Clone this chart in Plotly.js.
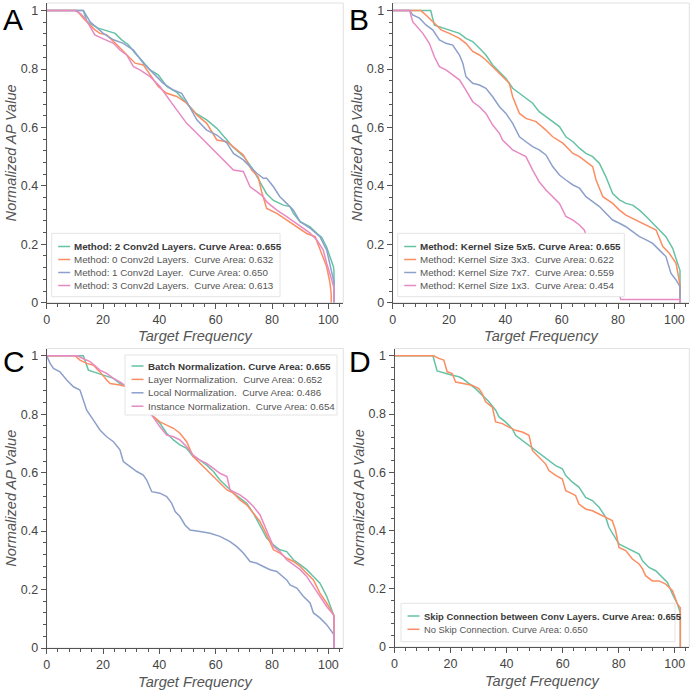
<!DOCTYPE html>
<html><head><meta charset="utf-8">
<script src="https://cdn.plot.ly/plotly-3.0.1.min.js"></script>
<style>html,body{margin:0;padding:0;background:#fff;}#chart{width:692px;height:694px;}</style>
</head><body><div id="chart"></div>
<script>
// ---------- colours ----------
const seriesColors = ['#66c2a5', '#fc8d62', '#8da0cb', '#e78ac3'];

// ---------- Panel A : number of Conv2d layers ----------
const namesA = ['Method: 2 Conv2d Layers. Curve Area: 0.655',
  'Method: 0 Conv2d Layers.\u00a0 Curve Area: 0.632',
  'Method: 1 Conv2d Layer.\u00a0 Curve Area: 0.650',
  'Method: 3 Conv2d Layers.\u00a0 Curve Area: 0.613'];
const A_green_x = [0,13,14.2,15.4,18.3,21.9,24.3,26.6,29,31.4,33.1,36.7,39.6,42.6,46.2,49.7,53,56.8,60.4,64,66,70,73,75.7,78,80.5,84,86.4,87.6,90,93.5,96,97.6,99.4,101.8,102,102];
const A_green_y = [1,1,.965,.955,.94,.928,.922,.9,.883,.854,.837,.797,.78,.74,.72,.683,.648,.626,.597,.557,.534,.5,.46,.414,.374,.35,.334,.329,.306,.277,.26,.237,.224,.19,.123,.106,0];
const A_orange_x = [0,10.7,13,15.4,17,18.9,21.3,24.9,28.4,31.4,34.3,36.7,39.6,42.6,46.2,49.7,53.3,56.8,60.4,64,66.3,69.8,72.8,75.1,76.3,78.1,81.7,85.2,88.8,92.3,95.3,97.6,99.4,100.6,101,101];
const A_orange_y = [1,1,.974,.951,.935,.922,.917,.883,.848,.82,.814,.78,.74,.717,.706,.683,.643,.614,.557,.551,.534,.506,.454,.43,.38,.323,.306,.283,.26,.237,.226,.169,.123,.066,.03,0];
const A_blue_x = [0,13,15.4,17.8,20.1,23.7,27.2,30.8,34.3,37.9,41.4,45,47.9,49.7,53.3,56.8,60.4,64,66.3,69.8,72.2,74.6,76.9,78.1,80.5,82.8,85.2,87.6,90,93.5,97,99.4,101.8,102,102];
const A_blue_y = [1,1,.962,.94,.922,.9,.888,.865,.82,.785,.751,.728,.717,.688,.626,.591,.574,.546,.511,.489,.466,.443,.426,.426,.397,.363,.34,.317,.277,.255,.226,.18,.078,.07,0];
const A_pink_x = [0,10,12,13.5,15.4,17.1,20.1,23.7,26,28.4,30.8,33.1,36.7,40.2,44.4,46.2,49.7,53.3,56.8,60.4,64,66.3,69.8,72.2,74.6,76.9,78.1,81.7,85.2,87.6,90,93.5,95.9,98.2,99.4,101.2,102,102];
const A_pink_y = [1,1,.99,.975,.945,.917,.903,.888,.865,.848,.808,.797,.774,.74,.683,.66,.614,.58,.546,.511,.477,.454,.449,.397,.38,.363,.345,.317,.295,.28,.262,.238,.215,.18,.135,.078,.05,0];

// ---------- Panel B : kernel size ----------
const namesB = ['Method: Kernel Size 5x5. Curve Area: 0.655',
  'Method: Kernel Size 3x3.\u00a0 Curve Area: 0.622',
  'Method: Kernel Size 7x7.\u00a0 Curve Area: 0.559',
  'Method: Kernel Size 1x3.\u00a0 Curve Area: 0.454'];
const B_green_x = [0,13.5,14.8,17.8,20.1,23.7,26,28.4,30.8,33.1,35.5,37.9,40.2,42.6,45,47.3,49.7,52,54.4,56.8,59.2,61.5,64,66.3,68.6,71,73.4,75.7,78.1,80.5,82.8,85.2,87.6,90,92.3,94.7,97,99.4,101.2,102,102];
const B_green_y = [1,1,.95,.94,.934,.922,.905,.894,.871,.848,.814,.791,.768,.734,.717,.7,.683,.654,.637,.62,.603,.568,.551,.529,.511,.5,.477,.431,.374,.352,.34,.334,.317,.295,.272,.249,.226,.186,.135,.11,0];
const B_orange_x = [0,10,11.8,14.2,17.2,20.1,23.7,26,28.4,30.8,33.1,35.5,37.9,40.2,41.4,42.6,45,47.3,50.9,54.4,56.8,60.4,64,66.3,68.6,71,72.2,74.6,78.1,80.5,82.8,86.4,90,93.5,95.9,98.2,100.6,101.8,102,102];
const B_orange_y = [1,1,.985,.962,.934,.922,.905,.888,.86,.848,.831,.808,.785,.763,.751,.705,.648,.631,.62,.591,.568,.546,.511,.5,.483,.466,.42,.363,.34,.317,.3,.283,.266,.249,.192,.169,.135,.078,.06,0];
const B_blue_x = [0,6,7.1,9.5,11.8,14.2,16.6,18.9,21.3,23.7,24.9,26,28.4,30.8,33.1,35.5,37.9,40.2,42.6,45,47.3,49.7,52,54.4,56.8,59.2,61.5,64,66.3,68.6,71,73.4,75.7,78.1,80.5,82.8,85.2,87.6,90,92.3,94.7,97,98.8,100.6,102,102];
const B_blue_y = [1,1,.985,.974,.951,.934,.9,.888,.882,.848,.82,.774,.751,.745,.734,.705,.671,.648,.614,.568,.551,.534,.523,.506,.466,.437,.42,.403,.392,.363,.346,.329,.306,.283,.272,.26,.243,.226,.215,.203,.18,.158,.1,.078,.055,0];
const B_pink_x = [0,6,7.1,8.9,10.7,13,14.8,16.6,18.9,21.3,23.7,26,28.4,30.8,33.1,35.5,37.9,39,40.2,42.6,45,47.3,49.7,52,54.4,56.8,59.2,61.5,64,66.3,68,68.9,80.5,81,102,102];
const B_pink_y = [1,1,.962,.94,.922,.888,.842,.808,.797,.78,.763,.728,.688,.671,.648,.608,.58,.557,.546,.523,.511,.5,.454,.414,.386,.363,.34,.295,.283,.266,.249,.226,.026,.011,.011,0];

// ---------- Panel C : normalization ----------
const namesC = ['Batch Normalization. Curve Area: 0.655',
  'Layer Normalization.\u00a0 Curve Area: 0.652',
  'Local Normalization.\u00a0 Curve Area: 0.486',
  'Instance Normalization.\u00a0 Curve Area: 0.654'];
const C_green_x = [0,13,14.8,17.8,20.1,23.7,26,28.4,37.3,40.2,42.6,45,47.3,49.7,52,54.4,56.8,59.2,61.5,64,66.3,68.6,71,73.4,75.7,78.1,80.5,82.8,85.2,87.6,90,92.3,94.7,97,99.4,101.8,102,102];
const C_green_y = [1,1,.951,.94,.934,.923,.905,.895,.797,.769,.735,.712,.695,.683,.655,.643,.626,.604,.575,.552,.53,.513,.495,.461,.421,.376,.353,.336,.33,.302,.285,.268,.245,.222,.177,.12,.11,0];
const C_orange_x = [0,10,11.8,14.2,16.6,18.9,21.3,22.5,26,28.4,37.3,40.2,42.6,45,47.3,49.7,52,54.4,56.8,59.2,61.5,64,66.3,68.6,71,73.4,75.7,78.1,80.5,82.8,85.2,87.6,90,92.3,94.7,97,99.4,101.8,102,102];
const C_orange_y = [1,1,.985,.974,.968,.945,.917,.905,.9,.894,.797,.774,.763,.752,.735,.706,.655,.632,.609,.587,.564,.541,.53,.507,.49,.461,.433,.387,.336,.325,.307,.296,.279,.256,.233,.188,.154,.114,.11,0];
const C_blue_x = [0,1.2,2.4,4.7,7.1,9.5,11.8,13,14.2,16.6,18.9,21.3,23.7,26,27.2,29.6,32,34.3,35.5,37.3,40.2,42.6,44.4,45.6,47.3,49.1,50.9,54.4,58,61.5,65.1,67.5,69.8,72.2,74.6,76.9,79.3,81.7,84,85.2,86.4,88.8,91.1,93.5,94.7,97,99.4,101.8,102,102];
const C_blue_y = [1,.974,.957,.945,.917,.894,.883,.849,.814,.78,.746,.723,.706,.678,.638,.621,.604,.592,.575,.535,.53,.518,.495,.467,.45,.421,.404,.399,.393,.382,.364,.347,.325,.296,.29,.279,.268,.262,.245,.233,.216,.205,.177,.154,.12,.103,.08,.051,.045,0];
const C_pink_x = [0,11,13,15.4,18.9,21.3,23.7,26,28.4,37.3,40.2,42.6,45,47.3,49.7,52,54.4,56.8,59.2,61.5,64,65.1,66.3,68.6,71,73.4,75.7,78.1,80.5,82.8,85.2,87.6,90,92.3,94.7,97,99.4,101.8,102,102];
const C_pink_y = [1,1,.99,.98,.951,.94,.923,.911,.895,.797,.757,.729,.723,.712,.689,.66,.643,.632,.615,.598,.587,.541,.535,.524,.507,.484,.456,.404,.347,.33,.302,.285,.268,.245,.211,.177,.142,.114,.105,0];

// ---------- Panel D : skip connection ----------
const namesD = ['Skip Connection between Conv Layers. Curve Area: 0.655',
  'No Skip Connection. Curve Area: 0.650'];
const D_green_x = [0,13.7,15.2,18.2,20.6,23,24.2,26.5,28.9,31.3,33.7,36.1,37.3,39.6,42,43.2,45.6,48,50.4,52.7,55.1,57.5,59.9,61.1,63.5,65.8,68.2,70.6,73,74.2,75.4,76.5,78.9,80.1,82.5,84.9,87.3,88.5,90.8,93.2,95.6,97.4,99.2,101,102,102];
const D_green_y = [1,1,.948,.939,.933,.928,.922,.905,.887,.865,.842,.813,.79,.773,.75,.727,.71,.692,.675,.658,.641,.623,.612,.589,.566,.549,.514,.503,.48,.463,.445,.411,.371,.354,.342,.331,.319,.296,.273,.262,.239,.222,.181,.147,.118,0];
const D_orange_x = [0,14,15.8,17.6,18.8,20.6,21.8,24.2,27.7,30.1,31.3,32.5,34.9,36.1,38.5,40.8,43.2,45.6,48,49.2,51.5,53.9,55.1,57.5,59.9,61.1,63.5,64.6,65.8,68.2,70.6,73,75.4,77.7,78.9,80.1,82.5,84.9,87.3,88.5,89.6,92,94.4,96.8,99.2,101,102,102];
const D_orange_y = [1,1,.991,.985,.945,.939,.91,.905,.899,.887,.87,.842,.824,.773,.767,.755,.744,.738,.727,.675,.652,.629,.606,.589,.577,.537,.526,.52,.491,.474,.468,.457,.445,.434,.4,.342,.331,.302,.285,.268,.245,.227,.227,.216,.193,.147,.135,0];

// ---------- axis text ----------
const xTitle = 'Target Frequency';
const yTitle = 'Normalized AP Value';
const panelLetters = ['A', 'B', 'C', 'D'];

// ---------- layout geometry (pixels) ----------
const W = 692, H = 694;
const px = v => v / W, py = v => 1 - v / H;
const panels = [
  {letter: panelLetters[0], ax: '', names: namesA, series: [[A_green_x, A_green_y], [A_orange_x, A_orange_y], [A_blue_x, A_blue_y], [A_pink_x, A_pink_y]],
   xdom: [46.7, 343.3], xmax: 105.3, ydom: [3, 302.7], ymax: 1.026, lab: [1, 1],
   leg: {l: 51.7, t: 233.3, r: 280, b: 296.7, y0: 246.5, dy: 13, fs: 9.8}},
  {letter: panelLetters[1], ax: '2', names: namesB, series: [[B_green_x, B_green_y], [B_orange_x, B_orange_y], [B_blue_x, B_blue_y], [B_pink_x, B_pink_y]],
   xdom: [392.7, 689.3], xmax: 105.3, ydom: [3, 302.7], ymax: 1.026, lab: [346.5, 1],
   leg: {l: 397.7, t: 233.3, r: 624.3, b: 296.7, y0: 246.5, dy: 13, fs: 9.8}},
  {letter: panelLetters[2], ax: '3', names: namesC, series: [[C_green_x, C_green_y], [C_orange_x, C_orange_y], [C_blue_x, C_blue_y], [C_pink_x, C_pink_y]],
   xdom: [46.7, 343.3], xmax: 105.3, ydom: [348.5, 648], ymax: 1.025, lab: [1, 343],
   leg: {l: 125, t: 355, r: 337, b: 415, y0: 366, dy: 13.4, fs: 9.8}},
  {letter: panelLetters[3], ax: '4', names: namesD, series: [[D_green_x, D_green_y], [D_orange_x, D_orange_y]],
   xdom: [394.5, 689.3], xmax: 105.2, ydom: [348.5, 647], ymax: 1.025, lab: [346.5, 343],
   leg: {l: 401, t: 603.3, r: 675, b: 641.7, y0: 616, dy: 13.3, fs: 9.4}}
];

const FONT = 'Liberation Sans, Arial, sans-serif';
const traces = [];
const layout = {
  width: W, height: H, margin: {l: 0, r: 0, t: 0, b: 0},
  paper_bgcolor: '#fff', plot_bgcolor: '#fff', showlegend: false,
  font: {family: FONT, color: '#444'},
  shapes: [], annotations: []
};

panels.forEach(p => {
  const xa = 'xaxis' + p.ax, ya = 'yaxis' + p.ax;
  const xr = 'x' + p.ax, yr = 'y' + p.ax;
  p.series.forEach((s, i) => {
    traces.push({type: 'scatter', mode: 'lines', x: s[0], y: s[1], name: p.names[i],
      xaxis: xr, yaxis: yr, line: {color: seriesColors[i], width: 1.5}, hoverinfo: 'skip'});
  });
  const common = {showline: true, linecolor: '#555', linewidth: 1, ticks: 'outside', ticklen: 5,
    tickcolor: '#555', tickwidth: 1, showgrid: false, zeroline: false, tickfont: {size: 12.5, color: '#444', family: FONT}};
  layout[xa] = Object.assign({}, common, {
    domain: [px(p.xdom[0]), px(p.xdom[1])], range: [0, p.xmax], anchor: yr,
    tick0: 0, dtick: 20,
    minor: {dtick: 4, tick0: 0, ticks: 'outside', ticklen: 3, tickcolor: '#555', showgrid: false},
    title: {text: xTitle, standoff: 5, font: {size: 14.6, color: '#555', family: FONT, style: 'italic'}}
  });
  layout[ya] = Object.assign({}, common, {
    domain: [py(p.ydom[1]), py(p.ydom[0])], range: [0, p.ymax], anchor: xr,
    tick0: 0, dtick: 0.2,
    minor: {dtick: 0.04, tick0: 0, ticks: 'outside', ticklen: 3, tickcolor: '#555', showgrid: false},
    title: {text: yTitle, standoff: 0, font: {size: 14.6, color: '#555', family: FONT, style: 'italic'}}
  });
  // light frame around the plot area
  layout.shapes.push({type: 'rect', xref: xr + ' domain', yref: yr + ' domain', x0: 0, x1: 1, y0: 0, y1: 1,
    line: {color: '#e2e2e2', width: 1}, layer: 'below'});
  // legend box
  const L = p.leg;
  layout.shapes.push({type: 'rect', xref: 'paper', yref: 'paper', x0: px(L.l), x1: px(L.r), y0: py(L.b), y1: py(L.t),
    fillcolor: '#fff', line: {color: '#e4e4e4', width: 1}, layer: 'above'});
  p.names.forEach((n, i) => {
    const yy = L.y0 + i * L.dy;
    layout.shapes.push({type: 'line', xref: 'paper', yref: 'paper', x0: px(L.l + 6.5), x1: px(L.l + 18.5), y0: py(yy), y1: py(yy),
      line: {color: seriesColors[i], width: 1.5}, layer: 'above'});
    layout.annotations.push({xref: 'paper', yref: 'paper', x: px(L.l + 20.5), y: py(yy), xanchor: 'left', yanchor: 'middle',
      showarrow: false, text: i === 0 ? '<b>' + n + '</b>' : n,
      font: {family: FONT, size: L.fs, color: i === 0 ? '#3a3a3a' : '#555'}});
  });
  // panel letter
  layout.annotations.push({xref: 'paper', yref: 'paper', x: px(p.lab[0]), y: py(p.lab[1]), xanchor: 'left', yanchor: 'top',
    showarrow: false, text: p.letter, font: {family: FONT, size: 30, color: '#000'}});
});

Plotly.newPlot('chart', traces, layout, {staticPlot: true, displayModeBar: false});
</script></body></html>
